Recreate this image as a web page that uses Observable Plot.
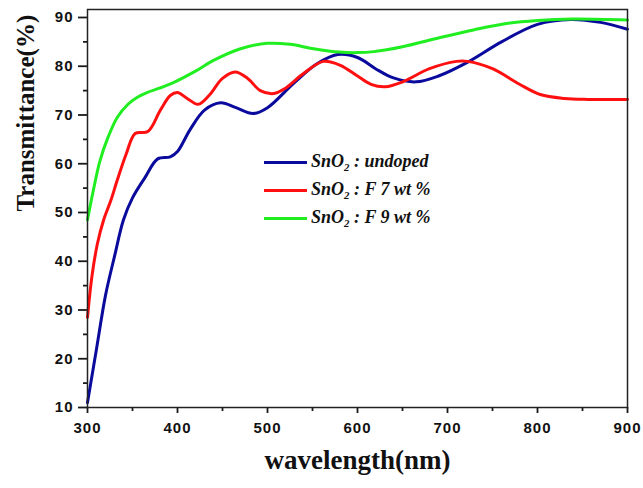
<!DOCTYPE html>
<html><head><meta charset="utf-8">
<script src="https://cdn.jsdelivr.net/npm/d3@7"></script>
<script src="https://cdn.jsdelivr.net/npm/@observablehq/plot@0.6"></script>
<style>
body{margin:0;background:#fff;}
#wrap{position:relative;width:643px;height:488px;}
.legend{position:absolute;left:264px;top:148px;font-family:"Liberation Serif";font-weight:bold;font-style:italic;font-size:18px;color:#111;}
.row{display:flex;align-items:center;height:28px;}
.sw{width:43px;height:3px;margin-right:4px;}
sub{font-size:0.6em;vertical-align:-0.35em;}
</style></head><body><div id="wrap"></div>
<script>
// wavelength (nm) / transmittance (%) per series
const undopedX = [300,310,320,330,340,350,364,378,392,400,414,430,448,465,484,500,529,555,578,600,620,640,665,690,722,760,800,837,870,900];
const undopedY = [11,22,33,41,48.5,53,57.2,61,61.4,62.5,67,71,72.5,71.5,70.3,71.5,76.5,80.5,82.4,81.8,79.5,77.6,76.8,78,80.8,85,88.6,89.6,89,87.6];
const f7X = [300,305,311,318,326,333,343,353,367,381,392,400,410,423,435,450,464,478,492,507,520,540,562,581,600,615,631,650,680,710,722,750,780,803,830,856,900];
const f7Y = [28.5,37,43.6,48.5,52.5,56.6,62,66.2,66.6,71,74,74.6,73.5,72.2,74,77.5,78.8,77.5,75,74.4,75.5,78.5,81,80.2,78,76.3,75.8,76.8,79.5,81,81,79.5,76.3,74.2,73.4,73.2,73.2];
const f9X = [300,307,314,323,333,345,355,366,380,396,420,440,470,500,525,551,580,600,618,650,692,730,767,800,840,900];
const f9Y = [48.5,55,60.7,65.5,69.5,72.2,73.6,74.6,75.5,76.7,79,81.2,83.6,84.7,84.5,83.6,82.9,82.8,83,84,85.9,87.5,88.8,89.4,89.7,89.5];
const seriesNames = ["undoped","F 7 wt %","F 9 wt %"];
const seriesColors = ["#0a0a9c","#ff1010","#20ee20"];
const xTicks = [300,400,500,600,700,800,900];
const xMinor = [350,450,550,650,750,850];
const yTicks = [10,20,30,40,50,60,70,80,90];
const yMinor = [15,25,35,45,55,65,75,85];

const sets = [[undopedX,undopedY],[f7X,f7Y],[f9X,f9Y]];
const rows = sets.map(([xs,ys]) => xs.map((x,i)=>({wl:x, t:ys[i]})));

const W = 643, H = 488, mL = 87, mR = 16, mT = 9, mB = 81;
const xDom = [300,900], yDom = [10,91.64];
const fw = W - mL - mR, fh = H - mT - mB;
const pxX = (xDom[1]-xDom[0]) / fw;  // data units per pixel
const pxY = (yDom[1]-yDom[0]) / fh;
const tickStyle = {stroke:"#1a1a1a", strokeWidth:1.8};
const chart = Plot.plot({
  width:W, height:H,
  marginLeft:mL, marginRight:mR, marginTop:mT, marginBottom:mB,
  style:{fontFamily:"Liberation Sans", fontWeight:"bold", fontSize:"15px", color:"#111", background:"transparent"},
  x:{domain:xDom},
  y:{domain:yDom},
  marks:[
    Plot.axisX({ticks:xTicks, tickSize:0, tickPadding:15, label:null}),
    Plot.axisY({ticks:yTicks, tickSize:0, tickPadding:14, label:null}),
    Plot.ruleX(xTicks, {x:d=>d, y1:yDom[0], y2:yDom[0]-6*pxY, ...tickStyle}),
    Plot.ruleX(xMinor, {x:d=>d, y1:yDom[0], y2:yDom[0]-4*pxY, ...tickStyle}),
    Plot.ruleY(yTicks, {y:d=>d, x1:xDom[0], x2:xDom[0]-9*pxX, ...tickStyle}),
    Plot.ruleY(yMinor, {y:d=>d, x1:xDom[0], x2:xDom[0]-4*pxX, ...tickStyle}),
    ...rows.map((r,i)=>Plot.line(r,{x:"wl", y:"t", stroke:seriesColors[i], strokeWidth:3, curve:"catmull-rom"})),
    Plot.frame({stroke:"#222", strokeWidth:1.5}),
    Plot.text(["wavelength(nm)"], {frameAnchor:"bottom", dy:61, fontFamily:"Liberation Serif", fontWeight:"bold", fontSize:27, fill:"#111"}),
    Plot.text(["Transmittance(%)"], {frameAnchor:"left", dx:-62, dy:3, rotate:-90, fontFamily:"Liberation Serif", fontWeight:"bold", fontSize:25, fill:"#111"})
  ]
});
chart.querySelectorAll("g[aria-label^='x-axis tick label'] text, g[aria-label^='y-axis tick label'] text").forEach(t=>{ t.style.letterSpacing="1px"; });
const wrap = document.getElementById("wrap");
wrap.appendChild(chart);
const leg = document.createElement("div");
leg.className = "legend";
seriesNames.forEach((n,i)=>{
  const row = document.createElement("div");
  row.className = "row";
  const sw = document.createElement("span");
  sw.className = "sw"; sw.style.background = seriesColors[i];
  const lab = document.createElement("span");
  lab.innerHTML = "SnO<sub>2</sub> : " + n;
  row.appendChild(sw); row.appendChild(lab);
  leg.appendChild(row);
});
wrap.appendChild(leg);
</script></body></html>
